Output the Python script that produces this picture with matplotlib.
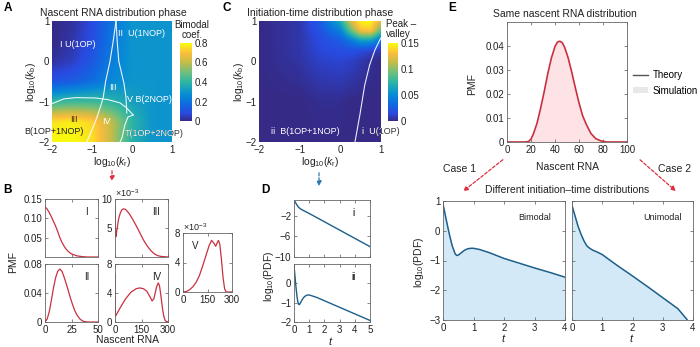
import numpy as np
import matplotlib
matplotlib.use("Agg")
import matplotlib.pyplot as plt
from matplotlib.colors import LinearSegmentedColormap
from matplotlib.patches import FancyArrowPatch, Patch
from matplotlib.lines import Line2D

# ---- phase maps: coarse grids over log10(kr) x log10(kb), rows top -> bottom ----
A_X = [-2, -1.5, -1, -0.5, 0, 0.5, 1]
A_Y = [1, 0.5, 0, -0.5, -1, -1.5, -2]
A_BIMODAL = [
    [0.00, 0.02, 0.08, 0.20, 0.30, 0.30, 0.30],
    [0.00, 0.03, 0.09, 0.21, 0.30, 0.30, 0.30],
    [0.02, 0.05, 0.12, 0.23, 0.30, 0.30, 0.30],
    [0.10, 0.13, 0.18, 0.26, 0.30, 0.30, 0.30],
    [0.40, 0.42, 0.42, 0.39, 0.33, 0.30, 0.30],
    [0.76, 0.78, 0.74, 0.60, 0.40, 0.30, 0.30],
    [0.80, 0.80, 0.76, 0.60, 0.38, 0.30, 0.30],
]
# phase boundaries
A_UPPER_X = [-2, -1.7, -1.4, -0.9, -0.6, -0.3, -0.13, 0.03]
A_UPPER_Y = [-1.05, -0.93, -0.9, -0.91, -0.95, -1.03, -1.16, -1.33]
A_LEFT_X = [-0.4, -0.47, -0.55, -0.66, -0.72, -0.78, -0.88, -1.0, -1.13]
A_LEFT_Y = [1, 0.5, 0, -0.5, -0.9, -1.1, -1.4, -1.7, -2]
A_RIGHT_X = [-0.4, -0.37, -0.33, -0.2, -0.15, -0.14, -0.13]
A_RIGHT_Y = [1, 0.5, 0, -0.55, -0.9, -1.1, -1.28]
A_LOWER_X = [0.03, -0.1, -0.18, -0.25, -0.3]
A_LOWER_Y = [-1.33, -1.38, -1.58, -1.9, -2]

C_X = [-2, -1, -0.5, 0, 0.25, 0.5, 0.75, 1]
C_Y = [1, 0.75, 0.5, 0.25, 0, -1, -2]
C_PEAK = [
    [0.0, 0.006, 0.025, 0.070, 0.120, 0.150, 0.150, 0.125],
    [0.0, 0.006, 0.020, 0.045, 0.090, 0.130, 0.135, 0.090],
    [0.0, 0.006, 0.016, 0.025, 0.040, 0.060, 0.060, 0.035],
    [0.0, 0.006, 0.014, 0.017, 0.018, 0.016, 0.012, 0.006],
    [0.0, 0.005, 0.011, 0.013, 0.011, 0.007, 0.003, 0.000],
    [0.0, 0.000, 0.002, 0.002, 0.000, 0.000, 0.000, 0.000],
    [0.0, 0.000, 0.000, 0.000, 0.000, 0.000, 0.000, 0.000],
]
C_LINE_X = [0.36, 0.48, 0.6, 0.72, 0.85, 0.97, 1.0]
C_LINE_Y = [-2, -1.33, -0.59, -0.09, 0.28, 0.53, 0.58]

# ---- nascent RNA PMFs for the five phases ----
I_N = [0, 2, 4, 6, 8, 10, 12, 14, 16, 18, 20, 22, 25, 30, 35, 40, 50]
I_PMF = [0.130, 0.124, 0.115, 0.104, 0.092, 0.080, 0.066, 0.050, 0.038,
         0.028, 0.020, 0.014, 0.008, 0.003, 0.001, 0, 0]
II_N = [0, 2, 4, 6, 8, 10, 12, 14, 16, 18, 20, 22, 24, 26, 28, 30, 33, 36, 40, 50]
II_PMF = [0, 0.004, 0.014, 0.030, 0.047, 0.061, 0.070, 0.073, 0.070, 0.062,
          0.053, 0.043, 0.033, 0.024, 0.016, 0.010, 0.004, 0.001, 0, 0]
III_N = [0, 2, 5, 10, 20, 30, 40, 50, 60, 80, 100, 120, 140, 160, 180, 200,
         220, 240, 260, 300]
III_PMF = [8.8, 5.0, 3.5, 4.5, 6.5, 7.6, 8.2, 8.3, 8.2, 7.5, 6.5, 5.4, 4.2,
           3.0, 2.0, 1.2, 0.6, 0.25, 0.1, 0.0]          # x1e-3
IV_N = [0, 1, 3, 10, 30, 60, 90, 120, 140, 160, 180, 200, 210, 220, 235, 245,
        252, 260, 268, 276, 285, 300]
IV_PMF = [6.5, 2.0, 0.8, 1.1, 2.0, 3.2, 4.1, 4.6, 4.7, 4.6, 4.25, 3.4, 2.9,
          3.2, 4.8, 5.4, 5.0, 3.6, 2.0, 0.8, 0.15, 0]   # x1e-3
V_N = [0, 20, 40, 60, 80, 100, 120, 140, 160, 175, 190, 200, 210, 217, 225,
       235, 245, 255, 265, 300]
V_PMF = [0, 0.05, 0.3, 0.7, 1.3, 2.2, 3.5, 4.9, 6.3, 7.0, 6.6, 6.2, 6.7, 7.0,
         6.5, 4.5, 2.0, 0.4, 0.0, 0]                     # x1e-3

# ---- initiation-time densities (log10 PDF) ----
Di_T = [0, 0.1, 0.2, 0.3, 0.4, 0.5, 0.7, 1, 2, 3, 4, 5]
Di_LOG = [1.0, 0.5, 0.0, -0.4, -0.65, -0.85, -1.15, -1.6, -3.2, -4.8, -6.4, -8.0]
Dii_T = [0, 0.05, 0.1, 0.15, 0.2, 0.25, 0.3, 0.35, 0.4, 0.5, 0.6, 0.7, 0.85,
         1.0, 1.5, 2, 3, 4, 5]
Dii_LOG = [0.9, 0.5, 0.05, -0.35, -0.7, -0.95, -1.08, -1.1, -1.05, -0.9, -0.77,
           -0.68, -0.61, -0.6, -0.73, -0.9, -1.24, -1.58, -1.92]

# ---- panel E ----
E_N = [0, 15, 18, 20, 22, 25, 28, 31, 34, 37, 40, 42, 44, 46, 48, 51, 54, 57,
       60, 63, 66, 70, 74, 78, 83, 100]
E_PMF = [0, 0, 0.0002, 0.0012, 0.0034, 0.0078, 0.0140, 0.0210, 0.0285, 0.0350,
         0.0398, 0.0416, 0.0420, 0.0414, 0.0395, 0.0350, 0.0290, 0.0225, 0.0163,
         0.0110, 0.0074, 0.0035, 0.0014, 0.0005, 0, 0]
BI_T = [0, 0.05, 0.1, 0.2, 0.3, 0.4, 0.45, 0.5, 0.6, 0.7, 0.8, 0.9, 1.0, 1.2,
        1.5, 2, 2.5, 3, 3.5, 4]
BI_LOG = [0.9, 0.65, 0.4, -0.08, -0.5, -0.78, -0.83, -0.82, -0.74, -0.66, -0.61,
          -0.59, -0.59, -0.63, -0.73, -0.93, -1.09, -1.25, -1.4, -1.56]
UNI_T = [0, 0.1, 0.2, 0.3, 0.4, 0.5, 0.6, 0.7, 0.8, 1.0, 1.2, 1.5, 2, 2.5, 3,
         3.5, 3.8]
UNI_LOG = [0.85, 0.5, 0.15, -0.12, -0.35, -0.52, -0.6, -0.66, -0.7, -0.8, -0.95,
           -1.17, -1.52, -1.88, -2.25, -2.62, -2.98]

PARULA = LinearSegmentedColormap.from_list("parula", [
    (0.00, (0.208, 0.166, 0.529)),
    (0.10, (0.160, 0.290, 0.880)),
    (0.22, (0.060, 0.420, 0.880)),
    (0.35, (0.030, 0.560, 0.830)),
    (0.50, (0.180, 0.710, 0.640)),
    (0.62, (0.420, 0.750, 0.500)),
    (0.75, (0.760, 0.740, 0.290)),
    (0.87, (0.990, 0.740, 0.240)),
    (1.00, (0.976, 0.983, 0.054)),
])
RED = "#c9303f"
ARROW_RED = "#de3040"
BLUE = "#1d5f8a"
DARK = "#222222"

plt.rcParams.update({
    "font.family": ["Liberation Sans", "DejaVu Sans"],
    "font.size": 7,
    "mathtext.fontset": "custom",
    "mathtext.rm": "Liberation Sans",
    "mathtext.it": "Liberation Sans:italic",
    "axes.linewidth": 0.6,
    "axes.edgecolor": "#666666",
    "xtick.direction": "in", "ytick.direction": "in",
    "xtick.top": True, "ytick.right": True,
    "xtick.major.size": 2.2, "ytick.major.size": 2.2,
    "xtick.major.width": 0.5, "ytick.major.width": 0.5,
    "xtick.color": "#555555", "ytick.color": "#555555",
    "xtick.labelcolor": DARK, "ytick.labelcolor": DARK,
    "xtick.major.pad": 2, "ytick.major.pad": 2,
    "xtick.labelsize": 7, "ytick.labelsize": 7,
})

W, H = 700, 347
fig = plt.figure(figsize=(7, 3.47), dpi=100)


def box(x0, y0, x1, y1):
    return fig.add_axes([x0 / W, 1 - y1 / H, (x1 - x0) / W, (y1 - y0) / H])


def ftext(x, y, s, **kw):
    kw.setdefault("ha", "center")
    kw.setdefault("va", "center")
    kw.setdefault("color", DARK)
    return fig.text(x / W, 1 - y / H, s, **kw)


def arrow(p0, p1, color):
    fig.add_artist(FancyArrowPatch((p0[0] / W, 1 - p0[1] / H), (p1[0] / W, 1 - p1[1] / H),
                                   transform=fig.transFigure, arrowstyle="-|>",
                                   mutation_scale=7, lw=0.9, color=color,
                                   linestyle=(0, (2.5, 1.5))))


def blur(a, k):
    p = k // 2
    ker = np.ones(k) / k
    a = np.pad(a, p, mode="edge")
    a = np.apply_along_axis(lambda v: np.convolve(v, ker, mode="valid"), 0, a)
    return np.apply_along_axis(lambda v: np.convolve(v, ker, mode="valid"), 1, a)


def field(xn, yn, z, k, n=300):
    # rows come top -> bottom; flip so y increases for np.interp
    z = np.asarray(z, float)[::-1]
    yn = np.asarray(yn, float)[::-1]
    xs = np.linspace(xn[0], xn[-1], n)
    ys = np.linspace(yn[0], yn[-1], n)
    rows = np.array([np.interp(xs, xn, r) for r in z])
    full = np.array([np.interp(ys, yn, c) for c in rows.T]).T
    return blur(full, k)


def heat_axes(ax):
    ax.set_xlim(-2, 1)
    ax.set_ylim(-2, 1)
    ax.set_xticks([-2, -1, 0, 1])
    ax.set_yticks([-2, -1, 0, 1])
    ax.tick_params(length=0, pad=2)
    for s in ax.spines.values():
        s.set_visible(False)


def split_text(ax, x, y, s):
    # white inside the map, dark where the label runs past the edge
    ax.text(x, y, s, color="#333333", ha="center", va="center", fontsize=6.5,
            clip_on=False, zorder=3)
    ax.text(x, y, s, color="white", ha="center", va="center", fontsize=6.5,
            clip_on=True, zorder=4)


# ================= A =================
axA = box(52, 21, 172, 142)
imA = axA.imshow(field(A_X, A_Y, A_BIMODAL, 17), extent=[-2, 1, -2, 1], origin="lower",
                 aspect="auto", cmap=PARULA, vmin=0, vmax=0.8)
heat_axes(axA)
for xs, ys in [(A_UPPER_X, A_UPPER_Y), (A_LEFT_X, A_LEFT_Y),
               (A_RIGHT_X, A_RIGHT_Y), (A_LOWER_X, A_LOWER_Y)]:
    axA.plot(xs, ys, color="white", lw=0.8, alpha=0.9)
axA.text(-1.35, 0.42, "I U(1OP)", color="white", ha="center", va="center", fontsize=6.5)
axA.text(0.25, 0.68, "II  U(1NOP)", color="white", ha="center", va="center", fontsize=6.5)
axA.text(-0.47, -0.64, "III", color="white", ha="center", va="center", fontsize=6.5)
axA.text(0.43, -0.94, "V B(2NOP)", color="white", ha="center", va="center", fontsize=6.5)
axA.text(-1.45, -1.43, "III", color="#3a2a10", ha="center", va="center", fontsize=6.5)
axA.text(-0.63, -1.5, "IV", color="white", ha="center", va="center", fontsize=6.5)
axA.text(-1.95, -1.75, "B(1OP+1NOP)", color="#222222", ha="center", va="center",
         fontsize=6.5, clip_on=False)
split_text(axA, 0.55, -1.78, "T(1OP+2NOP)")

caxA = box(180, 43, 192, 121)
cbA = fig.colorbar(imA, cax=caxA, ticks=[0, 0.2, 0.4, 0.6, 0.8])
cbA.ax.set_yticklabels(["0", "0.2", "0.4", "0.6", "0.8"])
cbA.outline.set_visible(False)
caxA.tick_params(length=0, pad=2, labelsize=7)
ftext(192, 30, "Bimodal\ncoef.", linespacing=1.0)

ftext(113, 13, "Nascent RNA distribution phase", fontsize=7.5)
ftext(112, 162, r"log$_{10}$($k_{\rm r}$)", fontsize=7.5)
ftext(31, 82, r"log$_{10}$($k_{\rm b}$)", fontsize=7.5, rotation=90)
ftext(8, 8, "A", fontsize=8.5, fontweight="bold", color="black")
arrow((112, 168), (112, 184), ARROW_RED)

# ================= B =================
ftext(8, 190, "B", fontsize=8.5, fontweight="bold", color="black")
axI = box(45, 199, 98, 257)
axII = box(45, 264, 98, 322)
axIII = box(115, 199, 168, 257)
axIV = box(115, 264, 168, 322)
axV = box(183, 233, 232, 292)

axI.plot(I_N, I_PMF, color=RED, lw=0.9)
axI.set_xlim(0, 50)
axI.set_ylim(0, 0.15)
axI.set_xticks([0, 25, 50])
axI.set_xticklabels([])
axI.set_yticks([0.05, 0.10, 0.15])
axI.set_yticklabels(["0.05", "0.10", "0.15"])

axII.plot(II_N, II_PMF, color=RED, lw=0.9)
axII.set_xlim(0, 50)
axII.set_ylim(0, 0.08)
axII.set_xticks([0, 25, 50])
axII.set_yticks([0, 0.04, 0.08])
axII.set_yticklabels(["0", "0.04", "0.08"])

axIII.plot(III_N, np.array(III_PMF) * 1e-3, color=RED, lw=0.9)
axIII.set_xlim(0, 300)
axIII.set_ylim(0, 0.01)
axIII.set_xticks([0, 150, 300])
axIII.set_xticklabels([])
axIII.set_yticks([0.005, 0.01])
axIII.set_yticklabels(["5", "10"])

axIV.plot(IV_N, np.array(IV_PMF) * 1e-3, color=RED, lw=0.9)
axIV.set_xlim(0, 300)
axIV.set_ylim(0, 0.008)
axIV.set_xticks([0, 150, 300])
axIV.set_yticks([0, 0.004, 0.008])
axIV.set_yticklabels(["0", "4", "8"])

axV.plot(V_N, np.array(V_PMF) * 1e-3, color=RED, lw=0.9)
axV.set_xlim(0, 300)
axV.set_ylim(0, 0.008)
axV.set_xticks([0, 150, 300])
axV.set_yticks([0, 0.004, 0.008])
axV.set_yticklabels(["0", "4", "8"])

for ax, lab in [(axI, "I"), (axII, "II"), (axIII, "III"), (axIV, "IV"), (axV, "V")]:
    x = 0.78 if ax is not axV else 0.25
    ax.text(x, 0.78, lab, transform=ax.transAxes, ha="center", va="center", fontsize=7,
            color=DARK)
ftext(115, 193, r"$\times$10$^{-3}$", ha="left", fontsize=6.5)
ftext(183, 227, r"$\times$10$^{-3}$", ha="left", fontsize=6.5)
ftext(13, 262, "PMF", fontsize=7.5, rotation=90)
ftext(128, 340, "Nascent RNA", fontsize=7.5)

# ================= C =================
axC = box(259, 21, 381, 142)
imC = axC.imshow(field(C_X, C_Y, C_PEAK, 11), extent=[-2, 1, -2, 1], origin="lower",
                 aspect="auto", cmap=PARULA, vmin=0, vmax=0.15)
heat_axes(axC)
axC.plot(C_LINE_X, C_LINE_Y, color="white", lw=0.8, alpha=0.9, clip_on=True)
axC.text(-0.85, -1.75, "ii  B(1OP+1NOP)", color="white", ha="center", va="center",
         fontsize=6.5)
split_text(axC, 0.99, -1.75, "i  U(1OP)")

caxC = box(388, 43, 398, 121)
cbC = fig.colorbar(imC, cax=caxC, ticks=[0, 0.05, 0.1, 0.15])
cbC.ax.set_yticklabels(["0", "0.05", "0.1", "0.15"])
cbC.outline.set_visible(False)
caxC.tick_params(length=0, pad=2, labelsize=7)
ftext(386, 29, "Peak \u2013\nvalley", ha="left", linespacing=1.0)

ftext(320, 13, "Initiation-time distribution phase", fontsize=7.5)
ftext(320, 162, r"log$_{10}$($k_{\rm r}$)", fontsize=7.5)
ftext(239, 82, r"log$_{10}$($k_{\rm b}$)", fontsize=7.5, rotation=90)
ftext(227, 8, "C", fontsize=8.5, fontweight="bold", color="black")
arrow((319, 170), (319, 189), "#2f78b0")

# ================= D =================
ftext(265, 190, "D", fontsize=8.5, fontweight="bold", color="black")
axDi = box(294, 200, 370, 257)
axDii = box(294, 264, 370, 322)
axDi.plot(Di_T, Di_LOG, color=BLUE, lw=1.0)
axDi.set_xlim(0, 5)
axDi.set_ylim(-10, 1)
axDi.set_xticks(range(6))
axDi.set_xticklabels([])
axDi.set_yticks([-10, -6, -2])
axDi.text(0.78, 0.78, "i", transform=axDi.transAxes, ha="center", va="center", fontsize=7)
axDii.plot(Dii_T, Dii_LOG, color=BLUE, lw=1.0)
axDii.set_xlim(0, 5)
axDii.set_ylim(-2, 1)
axDii.set_xticks(range(6))
axDii.set_yticks([-2, -1, 0])
axDii.text(0.78, 0.78, "ii", transform=axDii.transAxes, ha="center", va="center",
           fontsize=7)
ftext(269, 276, r"log$_{10}$(PDF)", fontsize=7.5, rotation=90)
ftext(331, 341, r"$t$", fontsize=8)

# ================= E =================
ftext(452, 8, "E", fontsize=8.5, fontweight="bold", color="black")
axE = box(507, 22, 627, 142)
axE.fill_between(E_N, E_PMF, 0, color="#fde3e6", lw=0)
axE.plot(E_N, E_PMF, color=RED, lw=1.2)
axE.set_xlim(0, 100)
axE.set_ylim(0, 0.05)
axE.set_xticks(range(0, 101, 20))
axE.set_yticks([0, 0.01, 0.02, 0.03, 0.04])
axE.set_yticklabels(["0", "0.01", "0.02", "0.03", "0.04"])
ftext(565, 14, "Same nascent RNA distribution", fontsize=7.5)
ftext(567, 167, "Nascent RNA", fontsize=7.5)
ftext(472, 84, "PMF", fontsize=7.5, rotation=90)
fig.legend(handles=[Line2D([], [], color="#555555", lw=1.0),
                    Patch(facecolor="#e8e8e8", edgecolor="none")],
           labels=["Theory", "Simulation"], loc="center left",
           bbox_to_anchor=(633 / W, 1 - 83 / H), frameon=False, fontsize=7,
           handlelength=1.5, handleheight=0.6, handletextpad=0.5, labelspacing=0.55,
           borderpad=0, borderaxespad=0)

arrow((505, 158), (461, 193), ARROW_RED)
arrow((638, 158), (678, 193), ARROW_RED)
ftext(460, 169, "Case 1", fontsize=7.5)
ftext(675, 169, "Case 2", fontsize=7.5)
ftext(567, 190, "Different initiation\u2013time distributions", fontsize=7.5)

axL = box(443, 201, 565, 320)
axR = box(572, 201, 693, 320)
for ax, t, y, lab in [(axL, BI_T, BI_LOG, "Bimodal"), (axR, UNI_T, UNI_LOG, "Unimodal")]:
    ax.fill_between(t, y, -3, color="#d3e9f7", lw=0)
    ax.plot(t, y, color=BLUE, lw=1.1)
    ax.set_xlim(0, 4)
    ax.set_ylim(-3, 1)
    ax.set_xticks(range(5))
    ax.set_yticks([-3, -2, -1, 0, 1])
    ax.text(0.75, 0.86, lab, transform=ax.transAxes, ha="center", va="center",
            fontsize=6.5, color=DARK)
axR.set_yticklabels([])
ftext(419, 262, r"log$_{10}$(PDF)", fontsize=7.5, rotation=90)
ftext(504, 338, r"$t$", fontsize=8)
ftext(632, 338, r"$t$", fontsize=8)

fig.savefig("out.png", dpi=100)
